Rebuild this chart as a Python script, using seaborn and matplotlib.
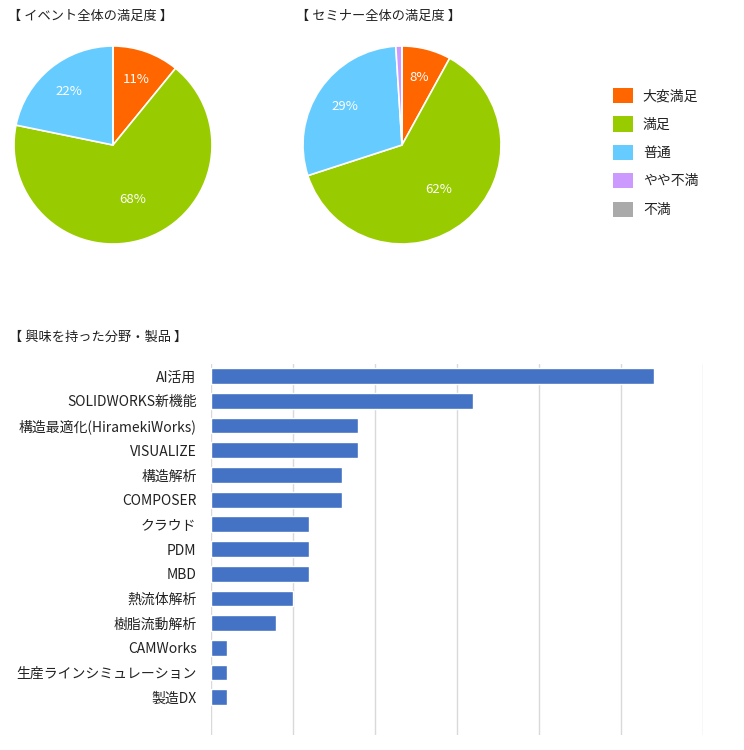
import matplotlib
matplotlib.use("Agg")
import matplotlib.pyplot as plt
import matplotlib.patches as mpatches
import seaborn as sns
import pandas as pd
import numpy as np

sns.set_theme(style="white")
plt.rcParams['font.family'] = ['Noto Sans CJK JP', 'DejaVu Sans']

# ---- data ----
sat_labels = ["大変満足", "満足", "普通", "やや不満", "不満"]
sat_colors = ["#FF6600", "#99CC00", "#66CCFF", "#CC99FF", "#AAAAAA"]
event_pct = [11, 68, 22, 0, 0]
seminar_pct = [8, 62, 29, 1, 0]

interest_cats = ["AI活用", "SOLIDWORKS新機能", "構造最適化(HiramekiWorks)", "VISUALIZE",
                 "構造解析", "COMPOSER", "クラウド", "PDM", "MBD", "熱流体解析",
                 "樹脂流動解析", "CAMWorks", "生産ラインシミュレーション", "製造DX"]
interest_vals = [27, 16, 9, 9, 8, 8, 6, 6, 6, 5, 4, 1, 1, 1]

W, H = 744, 750
fig = plt.figure(figsize=(W / 100, H / 100), dpi=100)
fig.patch.set_facecolor("white")

def px_axes(x0, y0, x1, y1):
    return fig.add_axes([x0 / W, 1 - y1 / H, (x1 - x0) / W, (y1 - y0) / H])

text_color = "#222222"

def draw_pie(ax, vals):
    ax.pie(vals, colors=sat_colors, startangle=90, counterclock=False,
           radius=1, wedgeprops=dict(edgecolor="white", linewidth=1.2))
    ax.set_xlim(-1.01, 1.01)
    ax.set_ylim(-1.01, 1.01)
    ax.set_aspect("equal")
    ax.axis("off")
    total = sum(vals)
    start = 90.0
    for v in vals:
        span = 360.0 * v / total
        mid = np.deg2rad(start - span / 2)
        start -= span
        if v / total >= 0.05:
            d = 0.7 if v / total < 0.5 else 0.58
            ax.text(d * np.cos(mid), d * np.sin(mid), f"{v}%", color="white",
                    ha="center", va="center", fontsize=9.5)

ax1 = px_axes(113 - 100, 145 - 100, 113 + 100, 145 + 100)
draw_pie(ax1, event_pct)
ax2 = px_axes(402 - 100, 145 - 100, 402 + 100, 145 + 100)
draw_pie(ax2, seminar_pct)

fig.text(8 / W, 1 - 16 / H, "【 イベント全体の満足度 】", fontsize=9.5, color=text_color, va="center")
fig.text(296 / W, 1 - 16 / H, "【 セミナー全体の満足度 】", fontsize=9.5, color=text_color, va="center")
fig.text(9 / W, 1 - 337 / H, "【 興味を持った分野・製品 】", fontsize=9.5, color=text_color, va="center")

handles = [mpatches.Patch(facecolor=c, edgecolor="none", label=l) for c, l in zip(sat_colors, sat_labels)]
fig.legend(handles=handles, loc="upper left", bbox_to_anchor=(613 / W, 1 - 88 / H),
           frameon=False, fontsize=10, borderpad=0, borderaxespad=0,
           handlelength=1.45, handleheight=1.3, handletextpad=0.7, labelspacing=0.95,
           labelcolor=text_color)

# ---- bar chart ----
ax3 = px_axes(210.5, 364, 703, 735)
df = pd.DataFrame({"cat": interest_cats, "val": interest_vals})
sns.barplot(data=df, x="val", y="cat", orient="h", color="#4472C4", width=0.64,
            saturation=1, ax=ax3)
ax3.set_xlim(0, 30)
ax3.set_ylim(14.53, -0.49)
ax3.set_xticks(range(0, 31, 5))
ax3.xaxis.grid(True, color="#D9D9D9", linewidth=1)
ax3.set_axisbelow(True)
ax3.tick_params(axis="x", labelbottom=False, length=0)
ax3.tick_params(axis="y", length=0, pad=10, labelsize=10, labelcolor=text_color)
ax3.set_xlabel("")
ax3.set_ylabel("")
for s in ax3.spines.values():
    s.set_visible(False)

fig.savefig("out.png", dpi=100, facecolor="white")
